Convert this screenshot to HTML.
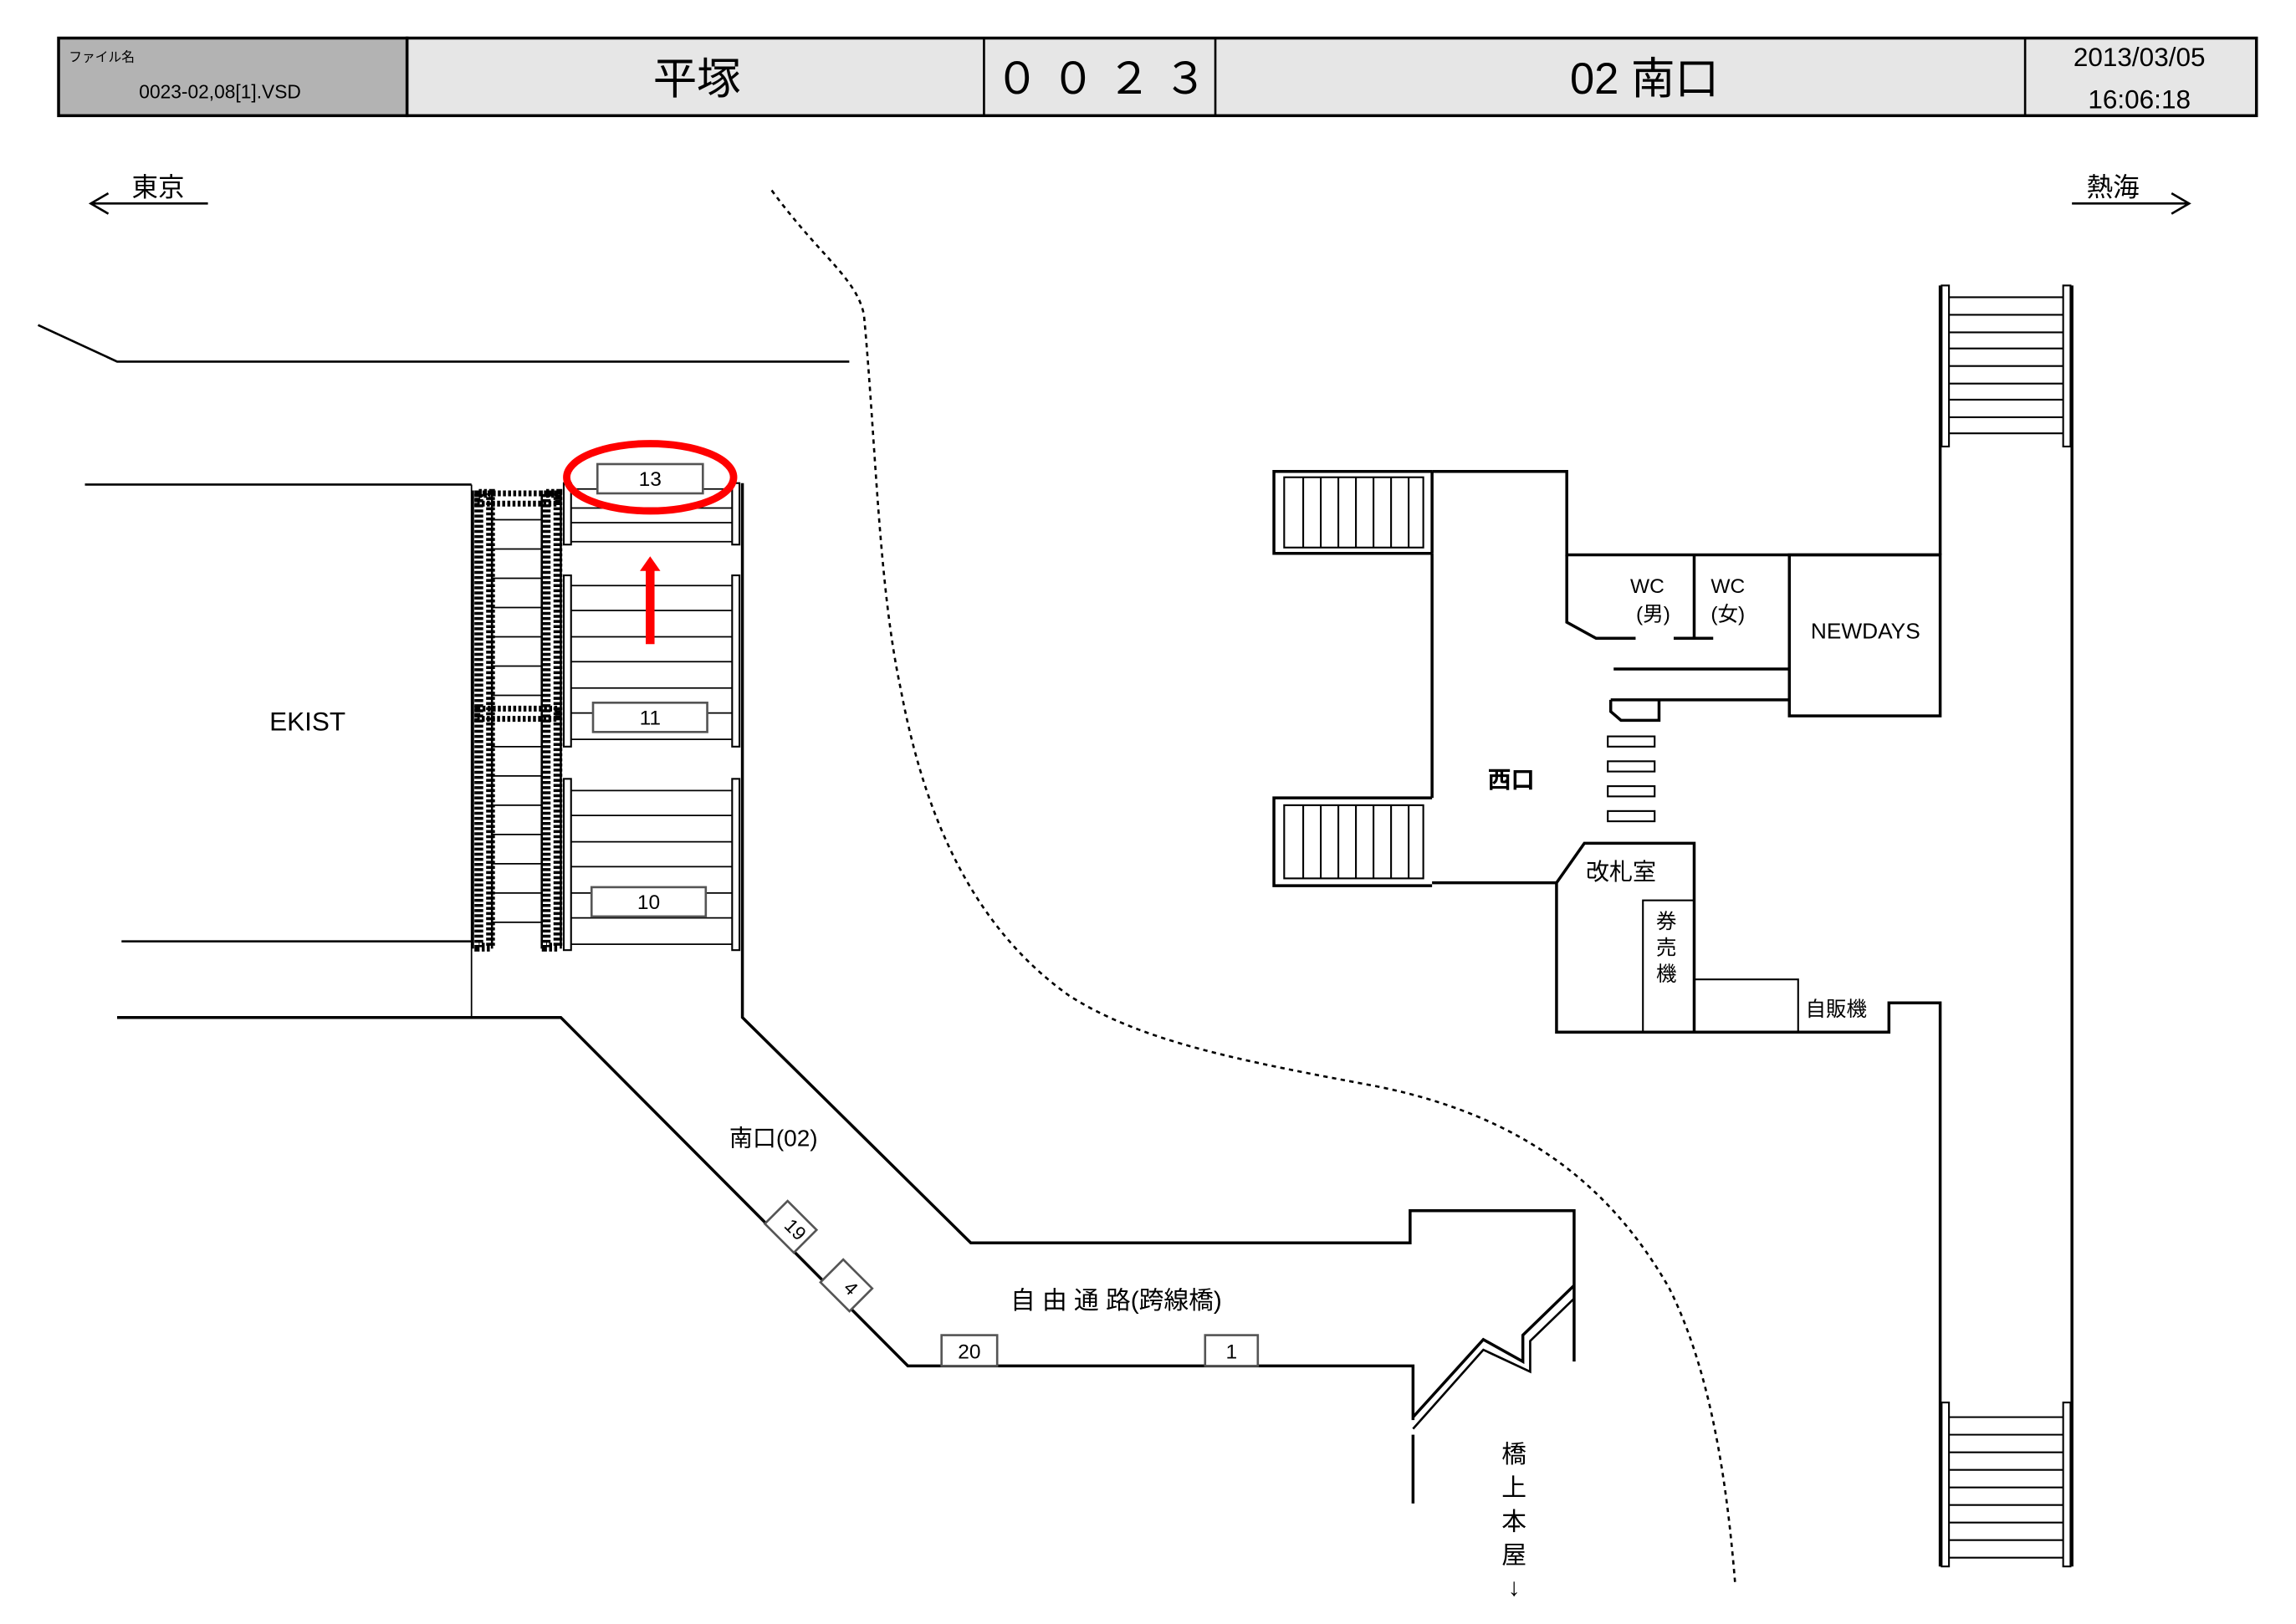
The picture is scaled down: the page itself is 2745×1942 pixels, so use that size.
<!DOCTYPE html>
<html><head><meta charset="utf-8"><style>
html,body{margin:0;padding:0;background:#fff}
svg{display:block}
text{font-family:"Liberation Sans","Noto Sans CJK JP",sans-serif;fill:#000}
</style></head><body>
<svg width="2745" height="1942" viewBox="0 0 1568 1109.3" xmlns="http://www.w3.org/2000/svg">
<g stroke="#000" fill="none">
<rect x="40" y="26" width="238" height="53" fill="#b3b3b3" stroke-width="2"/>
<rect x="278" y="26" width="1263" height="53" fill="#e6e6e6" stroke-width="2"/>
<line x1="672" y1="26" x2="672" y2="79" stroke-width="1.5"/>
<line x1="830" y1="26" x2="830" y2="79" stroke-width="1.5"/>
<line x1="1383" y1="26" x2="1383" y2="79" stroke-width="1.5"/>
</g>
<text x="47" y="42" font-size="9">ファイル名</text>
<text x="95" y="67" font-size="13">0023-02,08[1].VSD</text>
<text x="476" y="64" font-size="30" text-anchor="middle">平塚</text>
<text x="752" y="64" font-size="30" text-anchor="middle">０ ０ ２ ３</text>
<text x="1123" y="64" font-size="30" text-anchor="middle">02 南口</text>
<text x="1461" y="45" font-size="18" text-anchor="middle">2013/03/05</text>
<text x="1461" y="74" font-size="18" text-anchor="middle">16:06:18</text>

<text x="90" y="134" font-size="18">東京</text>
<text x="1425" y="134" font-size="18">熱海</text>
<g stroke="#000" fill="none" stroke-width="1.5">
<path d="M142 139H62M74 132L62 139L74 146"/>
<path d="M1415 139H1495M1483 132L1495 139L1483 146"/>
</g>

<g stroke="#000" fill="none" stroke-width="2">
<path d="M26 222L80 247H580" stroke-width="1.5"/>
<path d="M58 331H322M83 643H322" stroke-width="1.5"/>
<path d="M322 331V695" stroke-width="1"/>
<path d="M80 695H383L620 933H965V970"/>
<path d="M507 330V695L663 849H963V827H1075V930"/>
<path d="M965 980V1027"/>
<path d="M965 968L1013 915L1040 930L1040 912L1075 878"/>
<path d="M965 976L1013 922L1045 937L1045 916L1075 887" stroke-width="1.5"/>
<rect x="327" y="337" width="8" height="310" stroke="#000" stroke-width="6" stroke-dasharray="2 1.5"/>
<rect x="373" y="337" width="8" height="310" stroke="#000" stroke-width="6" stroke-dasharray="2 1.5"/>
<rect x="326" y="337" width="55" height="7" stroke-width="4" stroke-dasharray="2 1.5"/>
<rect x="326" y="484" width="55" height="7" stroke-width="4" stroke-dasharray="2 1.5"/>
<path d="M323 335V648M336 335V648M370 335V648M383 335V648" stroke-width="1.5"/>
</g>
<g stroke="#000" stroke-width="1">
<path d="M336 355H370M336 375H370M336 395H370M336 415H370M336 435H370M336 455H370M336 475H370M336 510H370M336 530H370M336 550H370M336 570H370M336 590H370M336 610H370M336 630H370"/>
<path d="M390 347H500M390 357H500M390 370H500M390 334H500"/>
<path d="M390 400H500M390 417H500M390 435H500M390 452H500M390 470H500M390 487H500M390 505H500"/>
<path d="M390 540H500M390 557H500M390 575H500M390 592H500M390 610H500M390 627H500M390 645H500"/>
</g>
<g stroke="#000" fill="none" stroke-width="1.2">
<rect x="385" y="330" width="5" height="42"/><rect x="500" y="330" width="5" height="42"/>
<rect x="385" y="393" width="5" height="117"/><rect x="500" y="393" width="5" height="117"/>
<rect x="385" y="532" width="5" height="117"/><rect x="500" y="532" width="5" height="117"/>
</g>
<g stroke="#555" fill="#fff" stroke-width="1.5">
<rect x="408" y="317" width="72" height="20"/>
<rect x="405" y="480" width="78" height="20"/>
<rect x="404" y="606" width="78" height="20"/>
<rect x="643" y="912" width="38" height="21"/>
<rect x="823" y="912" width="36" height="21"/>
<rect x="-14" y="-11" width="28" height="22" transform="translate(540 838) rotate(45)"/>
<rect x="-14" y="-11" width="28" height="22" transform="translate(578 878) rotate(45)"/>
</g>
<text x="444" y="332" font-size="14" text-anchor="middle">13</text>
<text x="444" y="495" font-size="14" text-anchor="middle">11</text>
<text x="443" y="621" font-size="14" text-anchor="middle">10</text>
<text x="662" y="928" font-size="14" text-anchor="middle">20</text>
<text x="841" y="928" font-size="14" text-anchor="middle">1</text>
<text font-size="13" text-anchor="middle" transform="translate(540 843) rotate(45)">19</text>
<text font-size="13" text-anchor="middle" transform="translate(578 883) rotate(45)">4</text>
<ellipse cx="444" cy="326" rx="57" ry="23" fill="none" stroke="#f00" stroke-width="5"/>
<path d="M441 440V390H437L444 380L451 390H447V440Z" fill="#f00"/>
<text x="210" y="499" font-size="18" text-anchor="middle">EKIST</text>
<text x="498" y="783" font-size="16">南口(02)</text>
<text x="690" y="894" font-size="17">自 由 通 路(跨線橋)</text>
<g font-size="17" text-anchor="middle"><text x="1034" y="999">橋</text><text x="1034" y="1022">上</text><text x="1034" y="1045">本</text><text x="1034" y="1068">屋</text><text x="1034" y="1090">↓</text></g>

<path d="M527 130C560 175 585 190 590 215C598 300 600 400 615 470C630 550 660 630 730 680C780 712 850 725 940 742C1040 762 1100 810 1140 880C1170 940 1180 1020 1185 1082" fill="none" stroke="#000" stroke-width="1.5" stroke-dasharray="3 3"/>

<g stroke="#000" fill="none" stroke-width="2">
<path d="M978 322H870V378H978M978 322V378"/>
<path d="M978 545H870V605H978"/>
<path d="M978 322H1070V379H1325"/>
<path d="M978 378V545"/>
<path d="M978 603H1063L1082 576H1157V705H1063V603"/>
<path d="M1063 705H1290V685H1325V1070"/>
<path d="M1070 379V425L1090 436H1117M1143 436H1170M1157 379V436"/>
<rect x="1222" y="379" width="103" height="110"/>
<path d="M1102 457H1222M1100 478H1222M1100 478V486L1107 492H1133V478"/>
<path d="M1325 195V379M1415 195V1070"/>
</g>
<g stroke="#000" fill="none" stroke-width="1.2">
<rect x="877" y="326" width="95" height="48"/>
<rect x="877" y="550" width="95" height="50"/>
<path d="M890 326V374M902 326V374M914 326V374M926 326V374M938 326V374M950 326V374M962 326V374"/>
<path d="M890 550V600M902 550V600M914 550V600M926 550V600M938 550V600M950 550V600M962 550V600"/>
<rect x="1098" y="503" width="32" height="7"/><rect x="1098" y="520" width="32" height="7"/>
<rect x="1098" y="537" width="32" height="7"/><rect x="1098" y="554" width="32" height="7"/>
<rect x="1122" y="615" width="35" height="90"/>
<rect x="1157" y="669" width="71" height="36"/>
<rect x="1326" y="195" width="5" height="110"/><rect x="1409" y="195" width="5" height="110"/>
<rect x="1326" y="958" width="5" height="112"/><rect x="1409" y="958" width="5" height="112"/>
<path d="M1331 203H1409M1331 215H1409M1331 227H1409M1331 238H1409M1331 250H1409M1331 262H1409M1331 273H1409M1331 285H1409M1331 296H1409"/>
<path d="M1331 968H1409M1331 980H1409M1331 992H1409M1331 1004H1409M1331 1016H1409M1331 1028H1409M1331 1040H1409M1331 1052H1409M1331 1064H1409"/>
</g>
<text x="1125" y="405" font-size="14" text-anchor="middle">WC</text>
<text x="1129" y="424" font-size="14" text-anchor="middle">(男)</text>
<text x="1180" y="405" font-size="14" text-anchor="middle">WC</text>
<text x="1180" y="424" font-size="14" text-anchor="middle">(女)</text>
<text x="1274" y="436" font-size="15" text-anchor="middle">NEWDAYS</text>
<text x="1016" y="538" font-size="16" font-weight="bold">西口</text>
<text x="1083" y="601" font-size="16">改札室</text>
<g font-size="14" text-anchor="middle"><text x="1138" y="634">券</text><text x="1138" y="652">売</text><text x="1138" y="670">機</text></g>
<text x="1233" y="694" font-size="14">自販機</text>
</svg>
</body></html>
